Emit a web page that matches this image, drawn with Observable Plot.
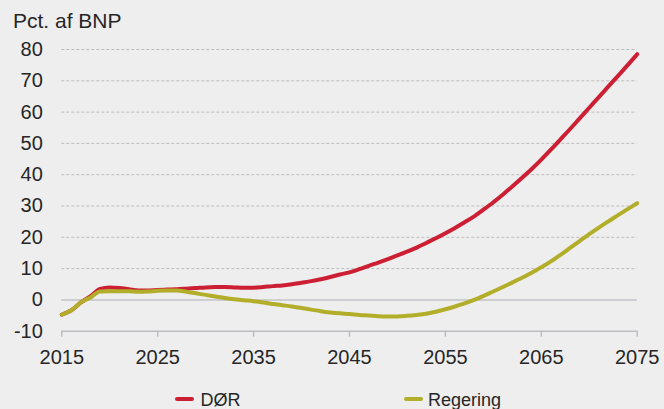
<!DOCTYPE html>
<html><head><meta charset="utf-8">
<script src="https://cdn.jsdelivr.net/npm/d3@7"></script>
<script src="https://cdn.jsdelivr.net/npm/@observablehq/plot@0.6"></script>
<style>
html,body{margin:0;padding:0;background:#eeeeee;}
body{width:664px;height:409px;overflow:hidden;position:relative;font-family:"Liberation Sans",Arial,sans-serif;color:#262626;}
#title{position:absolute;left:13px;top:10px;font-size:21px;line-height:21px;white-space:nowrap;}
#chart{position:absolute;left:0;top:36px;}
.leg{position:absolute;top:391px;font-size:18px;line-height:18px;white-space:nowrap;}
.sw{position:absolute;width:19px;height:4px;border-radius:2px;}
</style>
</head><body>
<div id="title">Pct. af BNP</div>
<div id="chart"></div>
<div id="legend"></div>
<script>
const years = [2015,2016,2017,2018,2019,2020,2021,2022,2023,2024,2025,2026,2027,2028,2029,2030,2031,2032,2033,2034,2035,2036,2037,2038,2039,2040,2041,2042,2043,2044,2045,2046,2047,2048,2049,2050,2051,2052,2053,2054,2055,2056,2057,2058,2059,2060,2061,2062,2063,2064,2065,2066,2067,2068,2069,2070,2071,2072,2073,2074,2075];
const dor = [-4.7,-3.3,-0.8,1.2,3.5,4.0,3.8,3.4,3.0,3.0,3.2,3.3,3.4,3.6,3.8,4.0,4.1,4.1,4.0,3.9,3.9,4.1,4.4,4.6,5.0,5.5,6.0,6.6,7.3,8.1,8.8,9.8,10.9,11.9,13.0,14.2,15.4,16.7,18.2,19.7,21.3,23.0,24.8,26.7,28.9,31.2,33.7,36.3,39.0,41.8,44.8,48.0,51.3,54.6,58.0,61.4,64.8,68.2,71.6,75.0,78.5];
const regering = [-4.7,-3.3,-0.8,0.8,2.7,2.8,2.8,2.8,2.6,2.7,2.9,3.0,3.0,2.6,2.1,1.6,1.1,0.6,0.2,-0.1,-0.4,-0.8,-1.3,-1.7,-2.1,-2.6,-3.1,-3.6,-4.0,-4.3,-4.5,-4.8,-5.0,-5.2,-5.3,-5.3,-5.1,-4.8,-4.4,-3.8,-3.0,-2.1,-1.1,0.0,1.3,2.7,4.1,5.6,7.1,8.7,10.4,12.3,14.4,16.6,18.8,21.0,23.1,25.1,27.1,29.0,30.9];
const seriesNames = ["DØR","Regering"];
const seriesColors = ["#cc1f34","#b3ae2a"];
const xTicks = [2015,2025,2035,2045,2055,2065,2075];
const yTicks = [-10,0,10,20,30,40,50,60,70,80];

const rows = [];
years.forEach((yr,i)=>{
  rows.push({year:yr, value:dor[i], series:seriesNames[0]});
  rows.push({year:yr, value:regering[i], series:seriesNames[1]});
});

const fmtY = d => d < 0 ? "-" + Math.abs(d) : String(d);
const chart = Plot.plot({
  width:664, height:335,
  marginTop:13, marginBottom:40.3, marginLeft:61.3, marginRight:27.3,
  style:{background:"transparent", fontFamily:"'Liberation Sans', Arial, sans-serif", fontSize:"20px", color:"#262626"},
  x:{domain:[2015,2075]},
  y:{domain:[-10,80]},
  color:{domain:seriesNames, range:seriesColors},
  marks:[
    Plot.ruleY(yTicks.filter(d=>d>0), {stroke:"#bcbcbc", strokeWidth:1, strokeDasharray:"3,2"}),
    Plot.ruleY([0], {stroke:"#c2c2c8", strokeWidth:1.5}),
    Plot.ruleY([-10], {stroke:"#bdbdc2", strokeWidth:1.5}),
    Plot.axisX({ticks:xTicks, tickSize:6, tickPadding:13, tickFormat:d=>String(d), label:null, stroke:"#bdbdc2", strokeWidth:1.5, strokeOpacity:1, fill:"#262626"}),
    Plot.axisY({ticks:yTicks, tickSize:0, tickPadding:19, tickFormat:fmtY, label:null, fill:"#262626"}),
    Plot.line(rows.filter(d=>d.series===seriesNames[0]), {x:"year", y:"value", stroke:"series", strokeWidth:4, curve:"monotone-x"}),
    Plot.line(rows.filter(d=>d.series===seriesNames[1]), {x:"year", y:"value", stroke:"series", strokeWidth:4, curve:"monotone-x"})
  ]
});
document.getElementById("chart").appendChild(chart);

const legend = document.getElementById("legend");
const legPos = [{sw:175, tx:200.5},{sw:404, tx:428}];
seriesNames.forEach((n,i)=>{
  const s = document.createElement("div");
  s.className="sw"; s.style.left=legPos[i].sw+"px"; s.style.top="397px"; s.style.background=seriesColors[i];
  legend.appendChild(s);
  const t = document.createElement("div");
  t.className="leg"; t.style.left=legPos[i].tx+"px"; t.textContent=n;
  legend.appendChild(t);
});
</script>
</body></html>
